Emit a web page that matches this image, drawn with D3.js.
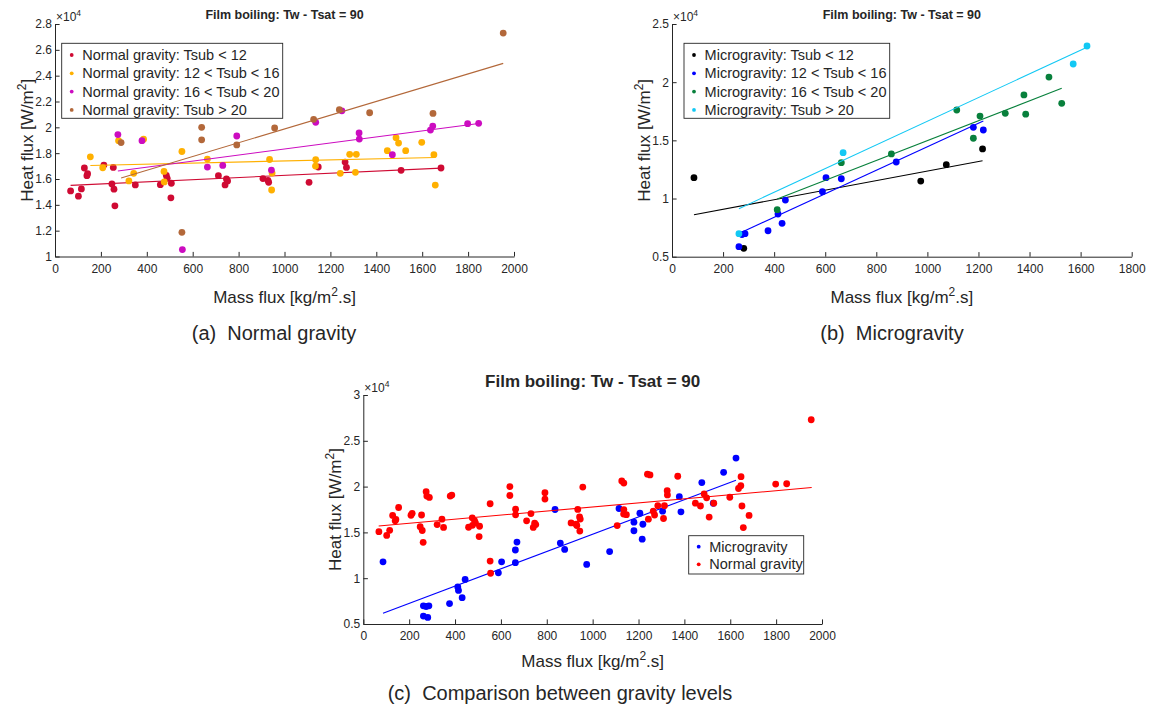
<!DOCTYPE html>
<html>
<head>
<meta charset="utf-8">
<script src="https://cdn.jsdelivr.net/npm/d3@7"></script>
<style>
  body { margin: 0; background: #fff; }
  text { font-family: "Liberation Sans", Arial, Helvetica, sans-serif; fill: #262626; }
</style>
</head>
<body>
<svg id="chart" width="1149" height="711"></svg>
<script>
// mass flux G [kg/m2.s], heat flux q [x 1e4 W/m2]
const ngTsub12 = [[68,1.508],[102,1.467],[115,1.523],[128,1.685],[139,1.626],[142,1.641],[213,1.708],
  [248,1.562],[254,1.69],[257,1.521],[261,1.392],[350,1.554],[459,1.556],[485,1.628],[489,1.605],
  [507,1.567],[505,1.454],[712,1.626],[741,1.554],[747,1.60],[752,1.585],[906,1.603],[928,1.59],
  [931,1.574],[1107,1.574],[1147,1.693],[1264,1.731],[1270,1.69],[1508,1.667],[1682,1.685]];
const ngTsub1216 = [[154,1.772],[208,1.687],[277,1.897],[322,1.585],[343,1.644],[386,1.908],[475,1.659],
  [476,1.577],[553,1.813],[664,1.754],[935,1.751],[946,1.646],[944,1.515],[1136,1.749],[1135,1.70],
  [1243,1.644],[1284,1.791],[1313,1.791],[1309,1.652],[1448,1.819],[1486,1.92],[1497,1.878],
  [1528,1.819],[1598,1.884],[1651,1.788],[1657,1.553]];
const ngTsub1620 = [[274,1.944],[379,1.897],[555,1.054],[664,1.692],[731,1.705],[792,1.933],[943,1.669],
  [1136,2.039],[1250,2.128],[1325,1.956],[1326,1.909],[1470,1.788],[1636,1.979],[1646,2.01],
  [1798,2.028],[1846,2.031]];
const ngTsub20 = [[288,1.882],[553,1.187],[639,2.0],[639,1.903],[792,1.864],[957,1.995],[1127,2.062],
  [1239,2.136],[1371,2.113],[1647,2.108],[1953,2.73]];

const mgTsub12 = [[86,1.179],[281,0.572],[974,1.15],[1074,1.291],[1216,1.426]];
const mgTsub1216 = [[262,0.586],[274,0.691],[286,0.698],[376,0.723],[415,0.867],[431,0.787],[444,0.987],
  [589,1.059],[603,1.179],[663,1.17],[878,1.314],[1180,1.612],[1219,1.589]];
const mgTsub1620 = [[412,0.904],[663,1.308],[859,1.383],[1115,1.761],[1206,1.709],[1180,1.518],
  [1305,1.732],[1378,1.89],[1385,1.725],[1476,2.044],[1526,1.818]];
const mgTsub20 = [[262,0.698],[670,1.394],[836,1.75],[1571,2.156],[1625,2.311]];

// fitted lines, [start, end] in data units
const fitNg12 = [[68,1.551],[1682,1.684]];
const fitNg1216 = [[154,1.705],[1657,1.767]];
const fitNg1620 = [[274,1.662],[1846,2.03]];
const fitNg20 = [[288,1.608],[1953,2.495]];
const fitMg12 = [[86,0.861],[1216,1.325]];
const fitMg1216 = [[262,0.70],[1219,1.666]];
const fitMg1620 = [[412,0.996],[1526,1.947]];
const fitMg20 = [[262,0.913],[1625,2.30]];
const fitMicro = [[86,0.617],[1625,2.07]];
const fitNormal = [[67,1.57],[1955,1.99]];

const xTicks2000 = [0,200,400,600,800,1000,1200,1400,1600,1800,2000];
const xTicks1800 = [0,200,400,600,800,1000,1200,1400,1600,1800];
const yTicksA = [1,1.2,1.4,1.6,1.8,2,2.2,2.4,2.6,2.8];
const yTicksB = [0.5,1,1.5,2,2.5];
const yTicksC = [0.5,1,1.5,2,2.5,3];

const titleText = "Film boiling: Tw - Tsat = 90";

const svg = d3.select("#chart");
svg.append("rect").attr("width", 1149).attr("height", 711).attr("fill", "#fff");

const panels = [
  {
    left: 55, right: 514, top: 24, bottom: 256.5,
    xDomain: [0, 2000], yDomain: [1, 2.8], xTicks: xTicks2000, yTicks: yTicksA,
    titleSize: 12.5, titleY: 18.5, xLabelY: 302.5, yLabelX: 33,
    caption: "(a)  Normal gravity", captionX: 274, captionY: 340,
    series: [
      {data: ngTsub12, fit: fitNg12, color: "#cf0a33", name: "Normal gravity: Tsub < 12"},
      {data: ngTsub1216, fit: fitNg1216, color: "#ffb000", name: "Normal gravity: 12 < Tsub < 16"},
      {data: ngTsub1620, fit: fitNg1620, color: "#cc0cc0", name: "Normal gravity: 16 < Tsub < 20"},
      {data: ngTsub20, fit: fitNg20, color: "#b3683a", name: "Normal gravity: Tsub > 20"}
    ],
    legend: {x: 61.7, y: 43.3, w: 221, h: 75, row0: 55, step: 18.3}
  },
  {
    left: 672, right: 1131.7, top: 24, bottom: 256.7,
    xDomain: [0, 1800], yDomain: [0.5, 2.5], xTicks: xTicks1800, yTicks: yTicksB,
    titleSize: 12.5, titleY: 18.5, xLabelY: 302.5, yLabelX: 650,
    caption: "(b)  Microgravity", captionX: 892, captionY: 340,
    series: [
      {data: mgTsub12, fit: fitMg12, color: "#000000", name: "Microgravity: Tsub < 12"},
      {data: mgTsub1216, fit: fitMg1216, color: "#0000ff", name: "Microgravity: 12 < Tsub < 16"},
      {data: mgTsub1620, fit: fitMg1620, color: "#08803c", name: "Microgravity: 16 < Tsub < 20"},
      {data: mgTsub20, fit: fitMg20, color: "#12c8f4", name: "Microgravity: Tsub > 20"}
    ],
    legend: {x: 684, y: 43.3, w: 205.7, h: 75, row0: 55, step: 18.3}
  },
  {
    left: 363.3, right: 822, top: 395, bottom: 624,
    xDomain: [0, 2000], yDomain: [0.5, 3], xTicks: xTicks2000, yTicks: yTicksC,
    titleSize: 17, titleY: 386.5, xLabelY: 667, yLabelX: 341,
    caption: "(c)  Comparison between gravity levels", captionX: 560, captionY: 700,
    series: [
      {data: [].concat(mgTsub12, mgTsub1216, mgTsub1620, mgTsub20), fit: fitMicro, color: "#0000ff", name: "Microgravity"},
      {data: [].concat(ngTsub12, ngTsub1216, ngTsub1620, ngTsub20), fit: fitNormal, color: "#ff0000", name: "Normal gravity"}
    ],
    legend: {x: 688.7, y: 535.7, w: 115, h: 38.3, row0: 546.7, step: 17.6}
  }
];

function drawPanel(p) {
  const g = svg.append("g");
  const x = d3.scaleLinear().domain(p.xDomain).range([p.left, p.right]);
  const y = d3.scaleLinear().domain(p.yDomain).range([p.bottom, p.top]);

  // points and fitted lines
  p.series.forEach(s => {
    g.append("g").selectAll("circle")
      .data(s.data)
      .join("circle")
      .attr("cx", d => x(d[0]))
      .attr("cy", d => y(d[1]))
      .attr("r", 3.4)
      .attr("fill", s.color);
    g.append("path")
      .datum(s.fit)
      .attr("d", d3.line().x(d => x(d[0])).y(d => y(d[1])))
      .attr("fill", "none")
      .attr("stroke", s.color)
      .attr("stroke-width", 1.1);
  });

  // axes, ticks pointing inward like matlab
  const xAxis = g.append("g")
    .attr("transform", `translate(0,${p.bottom})`)
    .call(d3.axisBottom(x).tickValues(p.xTicks).tickFormat(d3.format("d"))
      .tickSizeInner(-4.6).tickSizeOuter(0).tickPadding(7.5));
  const yAxis = g.append("g")
    .attr("transform", `translate(${p.left},0)`)
    .call(d3.axisLeft(y).tickValues(p.yTicks).tickFormat(d3.format("~g"))
      .tickSizeInner(-4.6).tickSizeOuter(0).tickPadding(3));
  [xAxis, yAxis].forEach(a => {
    a.select(".domain").attr("stroke", "#262626");
    a.selectAll(".tick line").attr("stroke", "#262626");
    a.selectAll(".tick text").attr("font-size", 12).attr("fill", "#333")
      .style("font-family", "'Liberation Sans', Arial, sans-serif");
  });

  // exponent
  const ex = g.append("text").attr("x", p.left + 1).attr("y", p.top - 3.5)
    .attr("font-size", 12).attr("fill", "#333");
  ex.append("tspan").text("\u00d710");
  ex.append("tspan").attr("dy", -5).attr("font-size", 8.5).text("4");

  // title
  g.append("text")
    .attr("x", (p.left + p.right) / 2).attr("y", p.titleY)
    .attr("text-anchor", "middle").attr("font-weight", "bold")
    .attr("font-size", p.titleSize).attr("fill", "#000")
    .text(titleText);

  // axis labels
  const xl = g.append("text")
    .attr("x", (p.left + p.right) / 2).attr("y", p.xLabelY)
    .attr("text-anchor", "middle").attr("font-size", 17);
  xl.append("tspan").text("Mass flux [kg/m");
  xl.append("tspan").attr("dy", -7).attr("font-size", 12).text("2");
  xl.append("tspan").attr("dy", 7).text(".s]");

  const yl = g.append("text")
    .attr("transform", `translate(${p.yLabelX},${(p.top + p.bottom) / 2}) rotate(-90)`)
    .attr("text-anchor", "middle").attr("font-size", 17);
  yl.append("tspan").text("Heat flux [W/m");
  yl.append("tspan").attr("dy", -7).attr("font-size", 12).text("2");
  yl.append("tspan").attr("dy", 7).text("]");

  // legend
  const L = p.legend;
  const lg = g.append("g");
  lg.append("rect")
    .attr("x", L.x).attr("y", L.y).attr("width", L.w).attr("height", L.h)
    .attr("fill", "#fff").attr("stroke", "#262626").attr("stroke-width", 0.9);
  const rows = lg.selectAll("g.row").data(p.series).join("g")
    .attr("transform", (d, i) => `translate(${L.x},${L.row0 + i * L.step})`);
  rows.append("circle").attr("cx", 10).attr("cy", 0).attr("r", 1.9).attr("fill", d => d.color);
  rows.append("text").attr("x", 20.6).attr("y", 0).attr("dy", "0.35em")
    .attr("font-size", 14.5).attr("fill", "#000").text(d => d.name);

  // caption
  g.append("text")
    .attr("x", p.captionX).attr("y", p.captionY)
    .attr("text-anchor", "middle").attr("font-size", 20).attr("fill", "#000")
    .style("white-space", "pre")
    .text(p.caption);
}

panels.forEach(drawPanel);
</script>
</body>
</html>
